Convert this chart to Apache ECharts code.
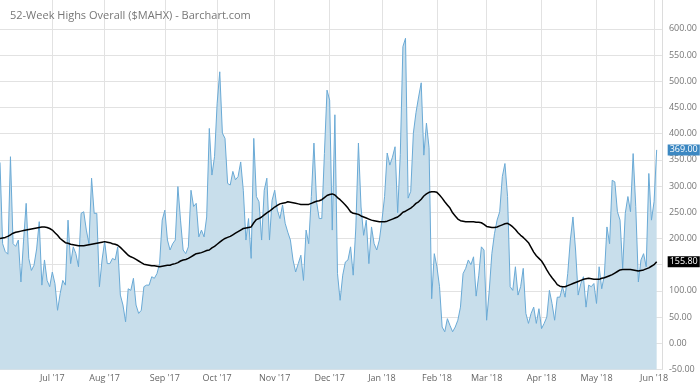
<!DOCTYPE html>
<html>
<head>
<meta charset="utf-8">
<script src="https://cdn.jsdelivr.net/npm/echarts@6/dist/echarts.min.js"></script>
<style>
html,body{margin:0;padding:0;background:#fff;}
#chart{width:700px;height:391px;}
</style>
</head>
<body>
<div id="chart"></div>
<script>
// ---- data ----
const titleText = "52-Week Highs Overall ($MAHX) - Barchart.com";
const startDate = "2017-06-05";
const categoryCount = 254;
const holidays = ["2017-07-04","2017-09-04","2017-11-23","2017-12-25","2018-01-01","2018-01-15","2018-02-19","2018-03-30","2018-05-28"];
const monthNames = ["Jan","Feb","Mar","Apr","May","Jun","Jul","Aug","Sep","Oct","Nov","Dec"];
const yTicks = { min: -50, max: 655, step: 50, lastLabel: 600 };

const highs = [
345,190,175,170,356,190,185,197,117,195,
267,162,139,149,180,232,111,159,120,108,
136,114,63,95,120,111,235,152,184,171,
146,248,251,216,190,315,248,248,108,159,
194,152,152,162,159,184,92,73,41,104,
101,124,73,57,63,108,111,111,127,124,
133,152,235,254,197,178,190,197,299,235,
178,171,184,292,261,267,203,216,203,241,
410,321,356,458,518,401,391,305,302,328,
312,318,346,292,197,238,162,391,280,270,
197,292,315,197,273,292,254,238,264,229,
212,197,159,136,152,168,120,216,190,280,
382,270,238,238,362,483,464,216,436,133,
82,130,155,159,184,130,220,382,260,206,
235,152,222,190,178,197,235,280,363,340,
355,375,249,360,566,582,277,290,401,440,
470,497,359,420,373,85,171,146,108,31,
22,47,34,22,31,44,69,133,143,159,
150,165,90,130,184,178,44,100,171,209,
235,251,318,343,280,108,101,146,92,108,
143,57,38,57,69,38,66,28,38,50,
101,76,44,88,88,108,88,133,197,241,
178,92,114,127,69,111,108,114,76,146,
104,130,222,190,311,308,251,235,143,248,
280,251,362,261,117,159,171,146,324,235,
270,369
];

const movingAvg = [
200,201,202,204,207,210,212,213,214,215,
216,217,218,219,220,221,222,222,221,219,
216,211,206,200,196,192,191,189,188,187,
186,186,186,187,188,189,190,191,192,193,
194,193,192,190,189,187,183,178,173,168,
165,163,160,157,154,151,150,149,148,148,
147,146,147,148,149,149,151,152,154,157,
159,160,162,165,168,171,172,173,175,177,
178,182,185,189,193,197,200,202,204,207,
210,213,216,219,220,221,222,230,236,238,
241,245,249,252,256,260,263,266,267,268,
270,269,268,267,266,265,265,265,265,267,
269,271,272,274,278,282,284,285,283,278,
274,269,264,258,251,248,247,246,243,241,
239,237,235,234,233,232,232,232,233,235,
237,239,241,245,250,252,255,258,262,267,
270,275,281,285,288,289,289,288,283,277,
270,264,258,249,243,237,234,233,232,232,
232,232,231,231,230,227,223,222,221,221,
222,224,226,228,229,226,222,217,211,206,
202,197,192,183,174,167,162,157,149,140,
132,125,119,112,109,108,108,110,112,114,
116,118,120,122,123,124,123,122,122,122,
124,125,127,129,131,134,137,140,141,141,
141,141,140,139,138,139,140,142,144,147,
150,155.8
];

// ---- build trading-day categories ----
function pad(n){return (n<10?'0':'')+n;}
const categories = [];
(function(){
  const d = new Date(startDate + "T12:00:00Z");
  while (categories.length < categoryCount) {
    const dow = d.getUTCDay();
    const s = d.getUTCFullYear() + '-' + pad(d.getUTCMonth()+1) + '-' + pad(d.getUTCDate());
    if (dow !== 0 && dow !== 6 && holidays.indexOf(s) < 0) categories.push(s);
    d.setUTCDate(d.getUTCDate() + 1);
  }
})();
function isMonthStart(i){
  if (i === 0) return false;
  return categories[i].slice(0,7) !== categories[i-1].slice(0,7);
}
function monthLabel(s){
  const y = s.slice(2,4), m = parseInt(s.slice(5,7),10);
  return monthNames[m-1] + " '" + y;
}

const gridColor = '#e2e2e2';
const splitColors = [];
for (let v = yTicks.min; v <= yTicks.max; v += yTicks.step) splitColors.push(v <= yTicks.lastLabel ? gridColor : 'rgba(0,0,0,0)');
splitColors.push('rgba(0,0,0,0)');

const chart = echarts.init(document.getElementById('chart'), null, {renderer:'canvas'});
chart.setOption({
  animation: false,
  backgroundColor: '#fff',
  title: {
    text: titleText, left: 5, top: 5,
    textStyle: {fontFamily: 'Open Sans', fontSize: 11, fontWeight: 'normal', color: '#777'}
  },
  grid: {left: -1, right: 35.5, top: 0, bottom: 21.5, containLabel: false},
  xAxis: {
    type: 'category', data: categories, boundaryGap: false,
    axisLine: {show: false}, axisTick: {show: false},
    axisLabel: {
      interval: (i) => isMonthStart(i),
      formatter: (v) => monthLabel(v),
      fontFamily: 'Open Sans', fontSize: 9, color: '#666', margin: 4
    },
    splitLine: {show: true, interval: (i) => isMonthStart(i), lineStyle: {color: gridColor, width: 1}}
  },
  yAxis: {
    type: 'value', position: 'right', min: yTicks.min, max: yTicks.max, interval: yTicks.step,
    axisLine: {show: true, lineStyle: {color: '#dcdcdc'}}, axisTick: {show: false},
    axisLabel: {
      fontFamily: 'Open Sans', fontSize: 9, color: '#777', margin: 7,
      formatter: (v) => v > yTicks.lastLabel ? '' : v.toFixed(2)
    },
    splitLine: {show: true, lineStyle: {color: splitColors, width: 1}}
  },
  series: [
    {
      name: 'MAHX', type: 'line', data: highs, symbol: 'none',
      lineStyle: {color: '#6aaad6', width: 1},
      itemStyle: {color: '#6aaad6'},
      areaStyle: {color: '#c8deeb', opacity: 1, origin: 'start'},
      endLabel: {
        show: true, formatter: (p) => Number(p.value).toFixed(2), distance: 11,
        backgroundColor: '#3c88c2', color: '#fff', fontFamily: 'Open Sans', fontSize: 9,
        padding: [1, 2, 1, 2]
      },
      z: 2
    },
    {
      name: 'MA', type: 'line', data: movingAvg, symbol: 'none',
      lineStyle: {color: '#000', width: 1.5},
      itemStyle: {color: '#000'},
      endLabel: {
        show: true, formatter: (p) => Number(p.value).toFixed(2), distance: 11,
        backgroundColor: '#000', color: '#fff', fontFamily: 'Open Sans', fontSize: 9,
        padding: [1, 2, 1, 2]
      },
      z: 3
    }
  ]
});
</script>
</body>
</html>
